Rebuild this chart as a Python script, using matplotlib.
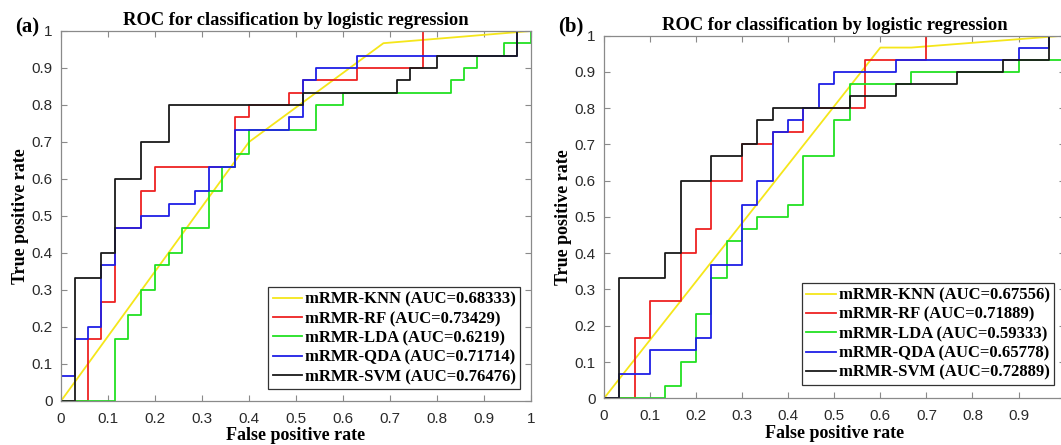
import matplotlib
matplotlib.use("Agg")
import matplotlib.pyplot as plt
from matplotlib.ticker import FuncFormatter, MultipleLocator

# ---- data (ROC vertices, step "post") ----
labels = ['mRMR-KNN', 'mRMR-RF', 'mRMR-LDA', 'mRMR-QDA', 'mRMR-SVM']
colors = ['#f5e61a', '#ee2222', '#22e022', '#1f1fe6', '#1a1a1a']

# panel (a)
auc_a = ['0.68333', '0.73429', '0.6219', '0.71714', '0.76476']
knn_a_fpr = [0, 0.4, 0.686, 1.0]
knn_a_tpr = [0, 0.7, 0.967, 1.0]
rf_a_fpr = [0, 0.057, 0.086, 0.114, 0.171, 0.2, 0.371, 0.4, 0.486, 0.514, 0.629, 0.771, 1.0]
rf_a_tpr = [0, 0.167, 0.267, 0.467, 0.567, 0.633, 0.767, 0.8, 0.833, 0.867, 0.9, 1.0, 1.0]
lda_a_fpr = [0, 0.114, 0.143, 0.171, 0.2, 0.229, 0.257, 0.314, 0.343, 0.371, 0.4, 0.543, 0.6,
             0.829, 0.857, 0.886, 0.943, 1.0]
lda_a_tpr = [0, 0.167, 0.233, 0.3, 0.367, 0.4, 0.467, 0.567, 0.633, 0.667, 0.733, 0.8, 0.833,
             0.867, 0.9, 0.933, 0.967, 1.0]
qda_a_fpr = [0, 0, 0.029, 0.057, 0.086, 0.114, 0.171, 0.229, 0.286, 0.314, 0.371, 0.486, 0.514,
             0.543, 0.629, 0.971, 1.0]
qda_a_tpr = [0, 0.067, 0.167, 0.2, 0.367, 0.467, 0.5, 0.533, 0.567, 0.633, 0.733, 0.767, 0.867,
             0.9, 0.933, 1.0, 1.0]
svm_a_fpr = [0, 0.029, 0.086, 0.114, 0.171, 0.229, 0.514, 0.714, 0.743, 0.8, 0.971, 1.0]
svm_a_tpr = [0, 0.333, 0.4, 0.6, 0.7, 0.8, 0.833, 0.867, 0.9, 0.933, 1.0, 1.0]

# panel (b)
auc_b = ['0.67556', '0.71889', '0.59333', '0.65778', '0.72889']
knn_b_fpr = [0, 0.6, 0.667, 1.0]
knn_b_tpr = [0, 0.967, 0.967, 1.0]
rf_b_fpr = [0, 0.067, 0.1, 0.167, 0.2, 0.233, 0.3, 0.367, 0.433, 0.567, 0.7, 1.0]
rf_b_tpr = [0, 0.167, 0.267, 0.4, 0.467, 0.6, 0.7, 0.733, 0.8, 0.933, 1.0, 1.0]
lda_b_fpr = [0, 0.133, 0.167, 0.2, 0.233, 0.267, 0.3, 0.333, 0.4, 0.433, 0.5, 0.533, 0.667, 0.9, 1.0]
lda_b_tpr = [0, 0.033, 0.1, 0.233, 0.333, 0.433, 0.467, 0.5, 0.533, 0.667, 0.767, 0.867, 0.9,
             0.933, 1.0]
qda_b_fpr = [0, 0.033, 0.1, 0.2, 0.233, 0.3, 0.333, 0.367, 0.4, 0.433, 0.467, 0.5, 0.633, 0.9,
             0.967, 1.0]
qda_b_tpr = [0, 0.067, 0.133, 0.167, 0.367, 0.533, 0.6, 0.733, 0.767, 0.8, 0.867, 0.9, 0.933,
             0.967, 1.0, 1.0]
svm_b_fpr = [0, 0.033, 0.133, 0.167, 0.233, 0.3, 0.333, 0.367, 0.533, 0.633, 0.767, 0.867, 0.967, 1.0]
svm_b_tpr = [0, 0.333, 0.4, 0.6, 0.667, 0.7, 0.767, 0.8, 0.833, 0.867, 0.9, 0.933, 1.0, 1.0]

SERIF = 'Liberation Serif'
SANS = 'Liberation Sans'
AX_GREY = '#8a8a8a'


def draw_panel(ax, curves, aucs, legend_anchor):
    knn, *steps = curves
    ax.plot(knn[0], knn[1], color=colors[0], linewidth=1.3,
            label=f'{labels[0]} (AUC={aucs[0]})')
    for i, (fpr, tpr) in enumerate(steps, start=1):
        ax.step(fpr, tpr, where='post', color=colors[i], linewidth=1.3,
                label=f'{labels[i]} (AUC={aucs[i]})')

    ax.set_xlim(0, 1)
    ax.set_ylim(0, 1)
    ax.xaxis.set_major_locator(MultipleLocator(0.1))
    ax.yaxis.set_major_locator(MultipleLocator(0.1))
    fmt = FuncFormatter(lambda v, _: f'{v:g}')
    ax.xaxis.set_major_formatter(fmt)
    ax.yaxis.set_major_formatter(fmt)
    ax.tick_params(direction='in', length=4, width=0.8, color=AX_GREY,
                   top=True, right=True, labelsize=11, labelcolor='#2a2a2a')
    ax.tick_params(axis='x', pad=8)
    ax.tick_params(axis='y', pad=6)
    for lab in ax.get_xticklabels() + ax.get_yticklabels():
        lab.set_family(SANS)
    for sp in ax.spines.values():
        sp.set_color(AX_GREY)
        sp.set_linewidth(0.9)

    ax.set_title('ROC for classification by logistic regression', fontsize=13.3,
                 fontweight='bold', family=SERIF, pad=4)
    ax.set_xlabel('False positive rate', fontsize=13, fontweight='bold', family=SERIF, labelpad=1)
    ax.set_ylabel('True positive rate', fontsize=13, fontweight='bold', family=SERIF, labelpad=2)

    leg = ax.legend(loc='lower right', bbox_to_anchor=legend_anchor, borderaxespad=0,
                    fancybox=False, prop={'family': SERIF, 'weight': 'bold', 'size': 12},
                    handlelength=1.75, handletextpad=0.2, labelspacing=0.2,
                    borderpad=0.25, framealpha=1)
    leg.get_frame().set_edgecolor('#333333')
    leg.get_frame().set_linewidth(0.9)


fig = plt.figure(figsize=(10.61, 4.45), dpi=100)
ax_a = fig.add_axes([0.0575, 0.0989, 0.443, 0.8315])
ax_b = fig.add_axes([0.5693, 0.105, 0.4341, 0.815])

draw_panel(ax_a,
           [(knn_a_fpr, knn_a_tpr), (rf_a_fpr, rf_a_tpr), (lda_a_fpr, lda_a_tpr),
            (qda_a_fpr, qda_a_tpr), (svm_a_fpr, svm_a_tpr)],
           auc_a, (0.977, 0.032))
draw_panel(ax_b,
           [(knn_b_fpr, knn_b_tpr), (rf_b_fpr, rf_b_tpr), (lda_b_fpr, lda_b_tpr),
            (qda_b_fpr, qda_b_tpr), (svm_b_fpr, svm_b_tpr)],
           auc_b, (0.977, 0.037))

# panel (b) runs past the right edge of the figure; its last x label falls outside
ax_b.xaxis.set_major_formatter(FuncFormatter(lambda v, _: '' if v > 0.95 else f'{v:g}'))

fig.text(15 / 1061, 1 - 27 / 445, '(a)', fontsize=15, fontweight='bold', family=SERIF, va='center')
fig.text(558 / 1061, 1 - 26 / 445, '(b)', fontsize=15, fontweight='bold', family=SERIF, va='center')

fig.savefig('out.png', dpi=100)
plt.close(fig)
